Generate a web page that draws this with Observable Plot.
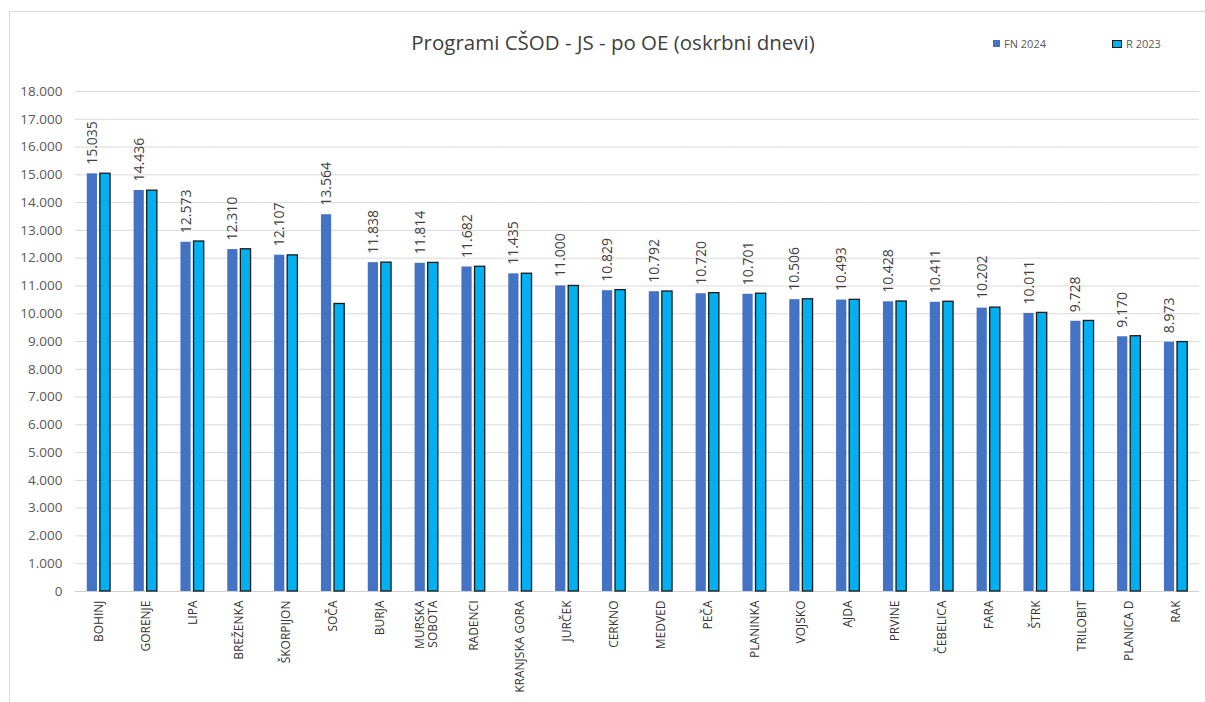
<!DOCTYPE html>
<html>
<head>
<meta charset="utf-8">
<script src="https://cdn.jsdelivr.net/npm/d3@7"></script>
<script src="https://cdn.jsdelivr.net/npm/@observablehq/plot@0.6"></script>
<style>
  html, body { margin: 0; padding: 0; background: #fff; }
  #wrap { position: relative; width: 1205px; height: 702px; overflow: hidden; font-family: "Open Sans", "Noto Sans", sans-serif; }
  #frame { position: absolute; left: 9px; top: 11px; right: -2px; bottom: -2px; border-left: 1.5px solid #d9d9d9; border-top: 1.5px solid #d9d9d9; pointer-events: none; }
  #header { position: relative; height: 75px; }
  #title { position: absolute; left: 13px; width: 1200px; top: 28px; text-align: center; font-size: 20.5px; color: #404040; }
  .leg { position: absolute; top: 36px; font-size: 11px; color: #595959; display: flex; align-items: center; }
  .sw { display: inline-block; width: 7px; height: 7px; margin-right: 4px; }
</style>
</head>
<body>
<div id="wrap">
  <div id="frame"></div>
  <div id="header">
    <div id="title">Programi CŠOD - JS - po OE (oskrbni dnevi)</div>
    <div class="leg" style="left:993px"><span class="sw" style="background:#4472C4"></span>FN 2024</div>
    <div class="leg" style="left:1112px"><span class="sw" style="background:#00B0F0;border:1.5px solid #1a1a1a;width:8px;height:6px"></span>R 2023</div>
  </div>
  <div id="chart"></div>
</div>
<script>
const categories = ["BOHINJ","GORENJE","LIPA","BREŽENKA","ŠKORPIJON","SOČA","BURJA","MURSKA\nSOBOTA","RADENCI","KRANJSKA GORA","JURČEK","CERKNO","MEDVED","PEČA","PLANINKA","VOJSKO","AJDA","PRVINE","ČEBELICA","FARA","ŠTRK","TRILOBIT","PLANICA D","RAK"];
const seriesNames = ["FN 2024", "R 2023"];
const fn2024 = [15035,14436,12573,12310,12107,13564,11838,11814,11682,11435,11000,10829,10792,10720,10701,10506,10493,10428,10411,10202,10011,9728,9170,8973];
const r2023 = [15040,14430,12600,12320,12100,10350,11840,11830,11690,11440,11000,10850,10800,10740,10720,10520,10500,10440,10430,10220,10030,9740,9190,8980];
const yTicks = d3.range(0, 18001, 1000);

const loc = d3.formatLocale({decimal: ",", thousands: ".", grouping: [3], currency: ["", "€"]});
const fmt = loc.format(",d");

const rows = [];
categories.forEach((c, i) => {
  rows.push({name: c, series: seriesNames[0], value: fn2024[i]});
  rows.push({name: c, series: seriesNames[1], value: r2023[i]});
});
const fnRows = rows.filter(d => d.series === seriesNames[0]);
const rRows = rows.filter(d => d.series === seriesNames[1]);

const chart = Plot.plot({
  width: 1205,
  height: 627,
  marginTop: 16,
  marginBottom: 111,
  marginLeft: 75,
  marginRight: 6,
  facet: {marginLeft: 0, marginRight: 0, marginTop: 0, marginBottom: 0},
  style: {fontFamily: "'Open Sans', 'Noto Sans', sans-serif", background: "#fff", overflow: "visible"},
  fx: {domain: categories, padding: 0, round: false, label: null},
  x: {domain: seriesNames, paddingInner: 0.22, paddingOuter: 0.9, round: false, axis: null},
  y: {domain: [0, 18000], label: null},
  marks: [
    Plot.gridY(yTicks, {stroke: "#d9d9d9", strokeOpacity: 1, strokeWidth: 1}),
    Plot.ruleY([0], {stroke: "#d0d0d0", strokeWidth: 1}),
    Plot.barY(fnRows, {fx: "name", x: "series", y: "value", fill: "#4472C4"}),
    Plot.barY(rRows, {fx: "name", x: "series", y: "value", fill: "#00B0F0", stroke: "#1a1a1a", strokeWidth: 1.3}),
    Plot.text(fnRows, {fx: "name", x: "series", y: "value", text: d => fmt(d.value), rotate: -90, textAnchor: "start", dy: -9, fontSize: 14, fill: "#404040"}),
    Plot.axisY({ticks: yTicks, tickFormat: d => fmt(d), tickSize: 0, tickPadding: 13, fontSize: 13.5, color: "#595959", label: null}),
    Plot.axisFx({anchor: "bottom", tickRotate: -90, tickSize: 0, tickPadding: 9, fontSize: 12, color: "#333333", label: null, lineHeight: 1.05, textOverflow: null})
  ]
});
document.getElementById("chart").appendChild(chart);
</script>
</body>
</html>
